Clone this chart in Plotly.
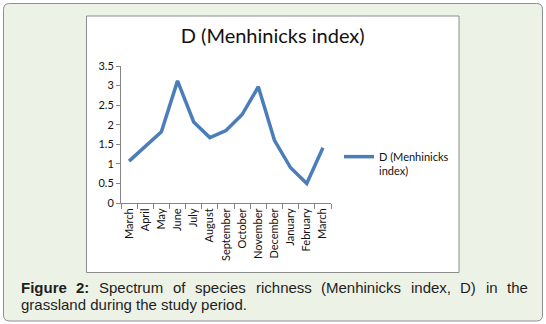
import plotly.graph_objects as go

# Monthly Menhinick's index values
months = ["March", "April", "May", "June", "July", "August", "September",
          "October", "November", "December", "January", "February", "March"]
menhinick_d = [1.07, 1.45, 1.82, 3.12, 2.07, 1.67, 1.85, 2.26, 2.97, 1.60, 0.90, 0.50, 1.41]
y_ticks = [0, 0.5, 1, 1.5, 2, 2.5, 3, 3.5]
series_name = "D (Menhinicks<br>index)"
chart_title = "D (Menhinicks index)"

# Caption words (first line is justified word by word)
caption_line1 = [("<b>Figure</b>", 19.0), ("<b>2:</b>", 74.4), ("Spectrum", 97.4),
                 ("of", 171.2), ("species", 193.3), ("richness", 253.7),
                 ("(Menhinicks", 319.2), ("index,", 408.8), ("D)", 458.4),
                 ("in", 483.8), ("the", 505.1)]
caption_line2 = "grassland during the study period."

# Page geometry (pixels)
WIDTH, HEIGHT = 546, 324
L, R, T, B = 121, 215, 66, 121
PW, PH = WIDTH - L - R, HEIGHT - T - B


def px(x):
    return (x - L) / PW


def py(y):
    return (HEIGHT - B - y) / PH


def rounded_rect(x0, y0, x1, y1, r):
    X0, X1, Y0, Y1 = px(x0), px(x1), py(y0), py(y1)
    rx, ry = r / PW, r / PH
    return (f"M{X0 + rx},{Y0} L{X1 - rx},{Y0} Q{X1},{Y0} {X1},{Y0 - ry} "
            f"L{X1},{Y1 + ry} Q{X1},{Y1} {X1 - rx},{Y1} "
            f"L{X0 + rx},{Y1} Q{X0},{Y1} {X0},{Y1 + ry} "
            f"L{X0},{Y0 - ry} Q{X0},{Y0} {X0 + rx},{Y0} Z")


x_idx = list(range(len(months)))

fig = go.Figure()
fig.add_trace(go.Scatter(
    x=x_idx, y=menhinick_d, mode="lines", name=series_name,
    line=dict(color="#4A7DBA", width=3.5),
    showlegend=True,
))

shapes = [
    # outer panel
    dict(type="path", xref="paper", yref="paper", path=rounded_rect(3.5, 3.5, 542.5, 321, 6),
         fillcolor="#EDF2E7", line=dict(color="#8F8F8F", width=1), layer="below"),
    # chart frame
    dict(type="rect", xref="paper", yref="paper",
         x0=px(86.5), x1=px(459), y0=py(16), y1=py(272.5),
         fillcolor="white", line=dict(color="#8C8C8C", width=1), layer="below"),
]

caption_font = dict(family="Liberation Sans, Arial", size=15, color="#1E1E1E")
annotations = []
for word, xpos in caption_line1:
    annotations.append(dict(
        text=word, xref="paper", yref="paper", x=px(xpos), y=py(287),
        xanchor="left", yanchor="middle", showarrow=False, font=caption_font,
    ))
annotations.append(dict(
    text=caption_line2, xref="paper", yref="paper", x=px(19), y=py(304),
    xanchor="left", yanchor="middle", showarrow=False, font=caption_font,
))

fig.update_layout(
    width=WIDTH, height=HEIGHT,
    margin=dict(l=L, r=R, t=T, b=B),
    paper_bgcolor="white",
    plot_bgcolor="rgba(0,0,0,0)",
    title=dict(text=chart_title, xref="container", yref="container",
               x=272.7 / WIDTH, y=1 - 36 / HEIGHT, xanchor="center", yanchor="middle",
               font=dict(family="Lato", size=20, color="#111111")),
    xaxis=dict(
        range=[-0.5, len(months) - 0.5],
        tickvals=x_idx, ticktext=months, tickangle=-90,
        ticks="", showgrid=False, zeroline=False,
        showline=True, linecolor="#868686", linewidth=1,
        tickfont=dict(family="Lato", size=11, color="#111111"),
        minor=dict(tickvals=[i - 0.5 for i in range(len(months) + 1)],
                   ticks="outside", ticklen=5, tickcolor="#868686", showgrid=False),
    ),
    yaxis=dict(
        range=[0, 3.5], tickvals=y_ticks, ticktext=[f"{v:g}" for v in y_ticks],
        ticks="outside", ticklen=4, tickcolor="#868686",
        showgrid=False, zeroline=False,
        showline=True, linecolor="#868686", linewidth=1,
        tickfont=dict(family="Lato", size=11, color="#111111"),
    ),
    legend=dict(
        x=px(339), y=py(143), xanchor="left", yanchor="top",
        bgcolor="rgba(0,0,0,0)", borderwidth=0, valign="top",
        font=dict(family="Lato", size=11, color="#111111"),
    ),
    shapes=shapes,
    annotations=annotations,
)

fig.write_html("out.html")
